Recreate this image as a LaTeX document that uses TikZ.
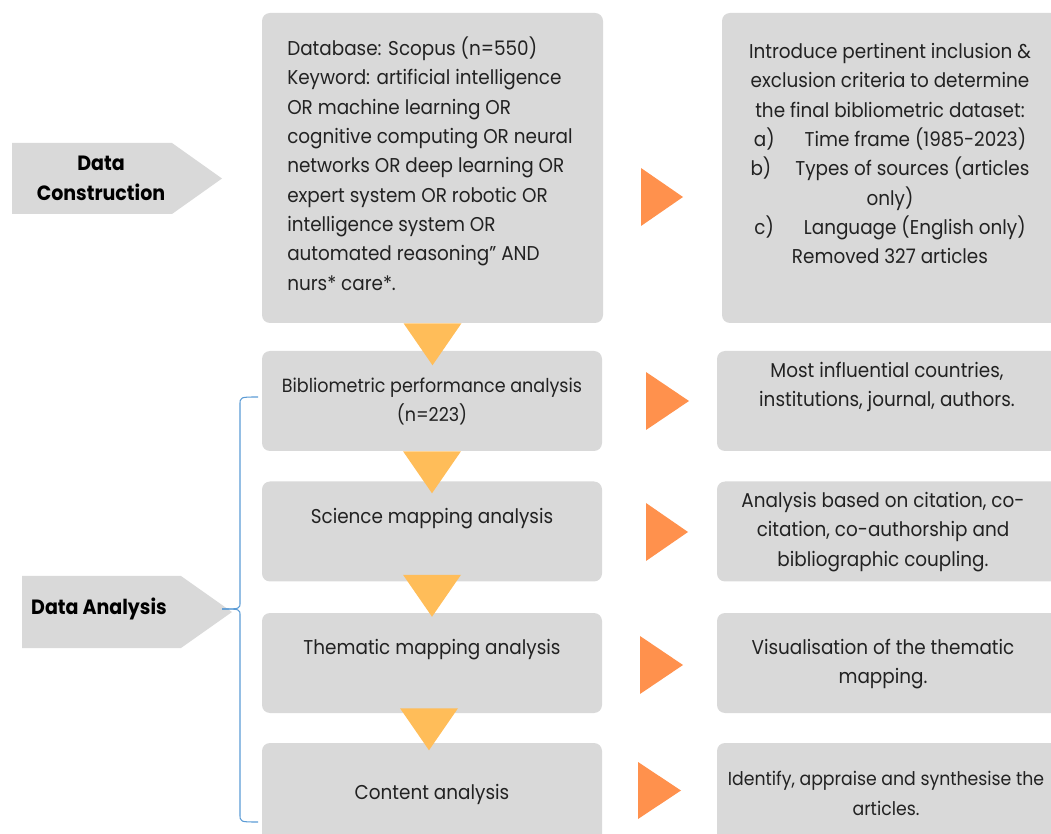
\documentclass[tikz,border=0pt]{standalone}
\usepackage{fontspec}
\setmainfont{Poppins}[FakeStretch=0.92]
\usetikzlibrary{calc}
\definecolor{boxgray}{HTML}{D9D9D9}
\definecolor{downtri}{HTML}{FFBD59}
\definecolor{orng}{HTML}{FF914D}
\definecolor{brc}{HTML}{5B9BD5}
\definecolor{ink}{HTML}{222222}
\begin{document}
\begin{tikzpicture}[x=0.75pt,y=-0.75pt,
  gbox/.style={fill=boxgray, rounded corners=6pt, inner sep=0pt, minimum width=255pt, minimum height=75pt},
  txt/.style={text=ink, font=\fontsize{15}{22}\selectfont, align=center, inner sep=0pt},
  lbl/.style={text=black, font=\fontsize{15.5}{22.5}\selectfont\bfseries, align=center, inner sep=0pt},
  dtri/.style={fill=downtri},
  rtri/.style={fill=orng},
  brace/.style={draw=brc, line width=0.8pt}]
\useasboundingbox (0,0) rectangle (1051,834);
\clip (0,0) rectangle (1051,834);

% left column boxes
\node[gbox, minimum width=255.75pt, minimum height=232.5pt] (l1) at (432.5,168) {};
\node[gbox] (l2) at (432,401) {};
\node[gbox] (l3) at (432,531.5) {};
\node[gbox] (l4) at (432,663) {};
\node[gbox] (l5) at (432,793) {};

% right column boxes
\node[gbox, minimum width=257.25pt, minimum height=232.5pt] (r1) at (893.5,168) {};
\node[gbox, minimum width=261pt] (r2) at (891,401) {};
\node[gbox, minimum width=261pt] (r3) at (891,531.5) {};
\node[gbox, minimum width=261pt] (r4) at (891,663) {};
\node[gbox, minimum width=261pt] (r5) at (891,793) {};

% texts
\node[txt, align=left, anchor=west] (t1) at (287,163.5) {Database: Scopus (n=550)\\Keyword: artificial intelligence\\OR machine learning OR\\cognitive computing OR neural\\networks OR deep learning OR\\expert system OR robotic OR\\intelligence system OR\\automated reasoning” AND\\nurs* care*.};
\node[txt, font=\fontsize{14.3}{22}\selectfont] (t2) at (432,401.5) {Bibliometric performance analysis\\(n=223)};
\node[txt] (t3) at (432,519) {Science mapping analysis};
\node[txt] (t4) at (432,650) {Thematic mapping analysis};
\node[txt] (t5) at (432,794) {Content analysis};

\node[txt] (s1) at (890,153.5) {Introduce pertinent inclusion \&\\exclusion criteria to determine\\the final bibliometric dataset:\\a)\hspace{1.5em}Time frame (1985-2023)\\b)\hspace{1.2em}Types of sources (articles\\only)\\c)\hspace{1.5em}Language (English only)\\Removed 327 articles};
\node[txt] (s2) at (887,387) {Most influential countries,\\institutions, journal, authors.};
\node[txt] (s3) at (883,532) {Analysis based on citation, co-\\citation, co-authorship and\\bibliographic coupling.};
\node[txt] (s4) at (883,664) {Visualisation of the thematic\\mapping.};
\node[txt, font=\fontsize{14.1}{22}\selectfont] (s5) at (886,793.5) {Identify, appraise and synthesise the\\articles.};

% down triangles
\fill[dtri] ($(l1.south)+(-29,0)$) -- ($(l1.south)+(29,0)$) -- ($(l1.south)+(0,42)$) -- cycle;
\fill[dtri] ($(l2.south)+(-29,0)$) -- ($(l2.south)+(29,0)$) -- ($(l2.south)+(0,42)$) -- cycle;
\fill[dtri] ($(l3.south)+(-29,-7)$) -- ($(l3.south)+(29,-7)$) -- ($(l3.south)+(0,35)$) -- cycle;
\fill[dtri] ($(l4.south)+(-32,-5)$) -- ($(l4.south)+(26,-5)$) -- ($(l4.south)+(-3,37)$) -- cycle;

% right triangles
\fill[rtri] (641,168) -- (683,197) -- (641,226) -- cycle;
\fill[rtri] (646,372) -- (689,401) -- (646,430) -- cycle;
\fill[rtri] (646,503) -- (688,532) -- (646,561) -- cycle;
\fill[rtri] (640,636) -- (683,665) -- (640,694) -- cycle;
\fill[rtri] (638,762) -- (681,790.5) -- (638,819) -- cycle;

% stage labels
\fill[boxgray] (12,143) -- (172,143) -- (222,178.5) -- (172,214) -- (12,214) -- cycle;
\node[lbl] (dc) at (101,178) {Data\\Construction};
\fill[boxgray] (22,576) -- (181,576) -- (232,612) -- (181,648) -- (22,648) -- cycle;
\node[lbl] (da) at (99,609) {Data Analysis};

% brace
\coordinate (btip) at (222,609);
\coordinate (btop) at (258,397);
\coordinate (bbot) at (258,822);
\draw[brace] (btop) .. controls (240,397) .. (240,405) -- (240,602) .. controls (240,609) .. (btip);
\draw[brace] (btip) .. controls (240,609) .. (240,616) -- (240,814) .. controls (240,822) .. (bbot);
\end{tikzpicture}
\end{document}
